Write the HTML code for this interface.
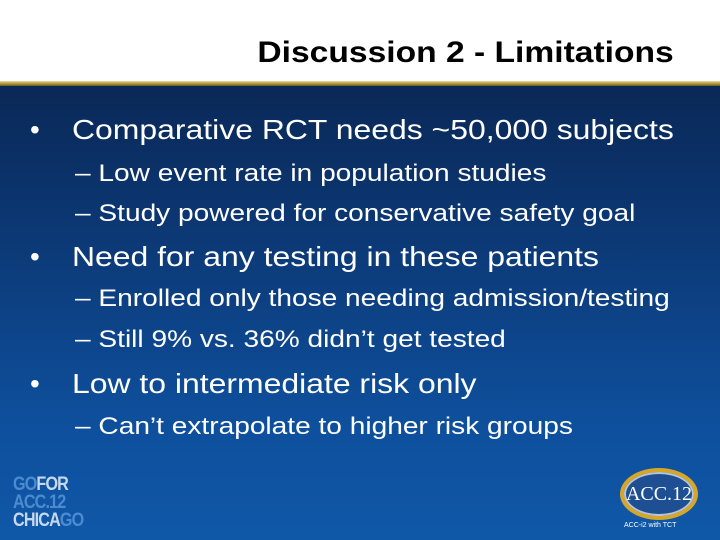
<!DOCTYPE html>
<html><head><meta charset="utf-8"><style>
body{margin:0;width:720px;height:540px;overflow:hidden;font-family:"Liberation Sans",Arial,sans-serif}
#slide{position:relative;width:720px;height:540px;background:linear-gradient(180deg,#0a2857 86px,#0c3a78 250px,#0e4f9c 420px,#0f58a8 540px)}
#hdr{position:absolute;left:0;top:0;width:720px;height:82px;background:#fff}
#gold{position:absolute;left:0;top:81px;width:720px;height:5px;background:linear-gradient(180deg,#e9dca0,#b89a3c,#6b5a22)}
#title{position:absolute;right:46px;top:36px;font-size:30px;font-weight:bold;color:#000;white-space:nowrap;transform:scaleX(1.12);transform-origin:right}
.l1,.l2{position:absolute;color:#fff;white-space:nowrap}
.l1{left:30px;font-size:28px}
.l1 span{position:absolute;left:0}
.l1 b{font-weight:normal;position:absolute;left:42px;transform:scaleX(1.14);transform-origin:left}
.l2{left:75px;font-size:24px;transform:scaleX(1.17);transform-origin:left}
.logo{position:absolute;left:13px;top:476px;font-weight:bold;font-size:19px;line-height:18px;color:#c8d8ec;letter-spacing:-1px;transform:scaleX(.85);transform-origin:left}
.logo .lb{color:#4c8bd0}
#acc{position:absolute;left:620px;top:468px;width:70px;height:44px;border-radius:50%;border:4px solid #d6a629;background:#1e4f93;color:#fff;font-family:"Liberation Serif",serif;font-size:20px;text-align:center;line-height:44px;box-shadow:0 0 0 2px #b8c4d4 inset}
#accsub{position:absolute;left:624px;top:522px;font-size:7px;color:#fff}
</style></head><body>
<div id="slide">
<div id="hdr"></div>
<div id="gold"></div>
<div id="title">Discussion 2 - Limitations</div>
<div class="l1" style="top:114px"><span>•</span><b>Comparative RCT needs ~50,000 subjects</b></div>
<div class="l2" style="top:160px">– Low event rate in population studies</div>
<div class="l2" style="top:200px">– Study powered for conservative safety goal</div>
<div class="l1" style="top:241px"><span>•</span><b>Need for any testing in these patients</b></div>
<div class="l2" style="top:285px">– Enrolled only those needing admission/testing</div>
<div class="l2" style="top:326px">– Still 9% vs. 36% didn’t get tested</div>
<div class="l1" style="top:368px"><span>•</span><b>Low to intermediate risk only</b></div>
<div class="l2" style="top:413px">– Can’t extrapolate to higher risk groups</div>
<div class="logo"><span class="lb">GO</span>FOR<br><span class="lb">ACC.12</span><br>CHICA<span class="lb">GO</span></div>
<div id="acc">ACC.12</div>
<div id="accsub">ACC-i2 with TCT</div>
</div>
</body></html>
